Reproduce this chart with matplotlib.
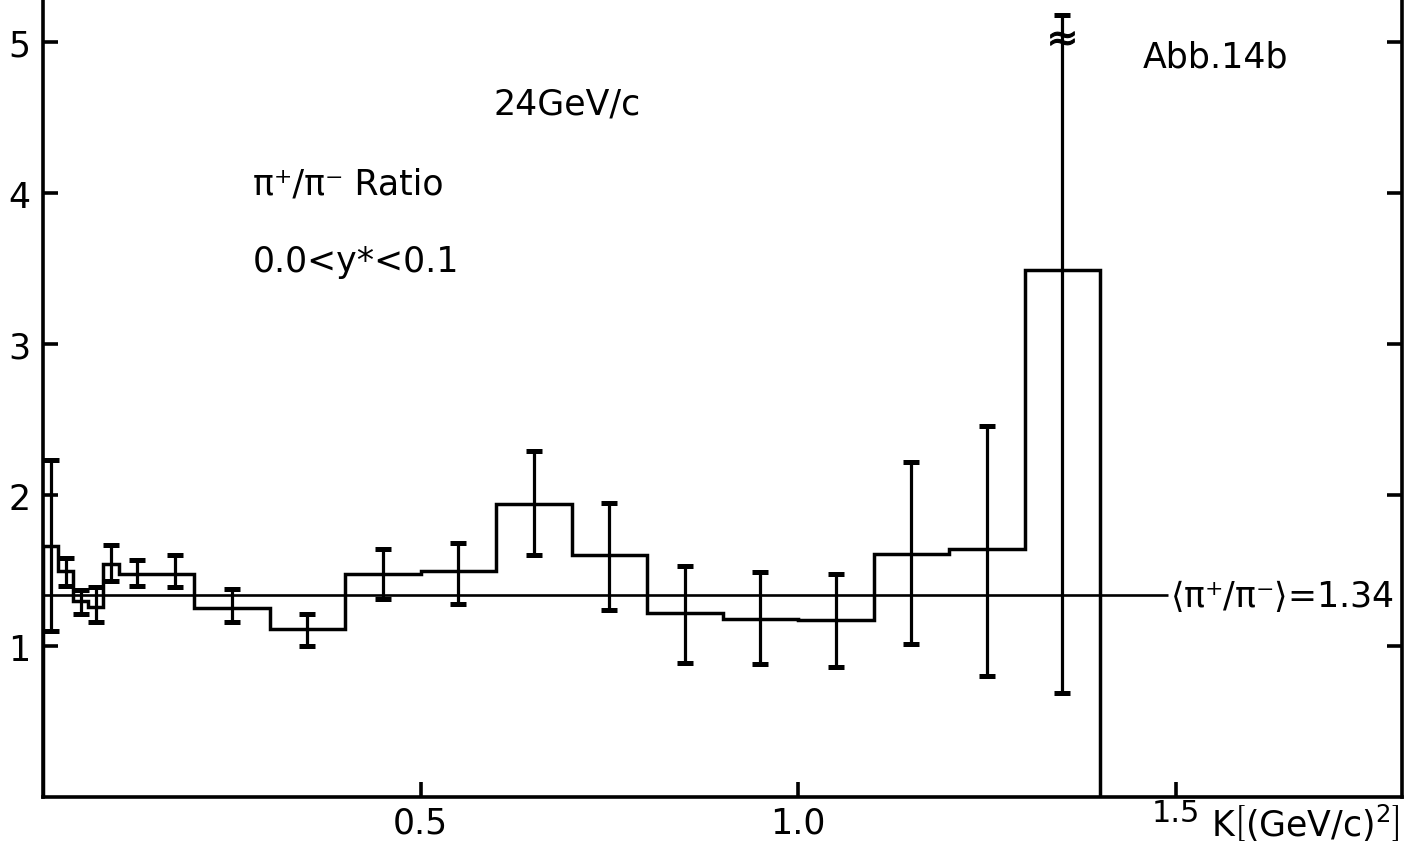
import numpy as np
import matplotlib
matplotlib.use("Agg")
import matplotlib.pyplot as plt
from matplotlib.transforms import blended_transform_factory

plt.rcParams['font.family'] = ['DejaVu Sans']
plt.rcParams['mathtext.fontset'] = 'dejavusans'

# pi+/pi- ratio per K bin, 24 GeV/c, 0.0 < y* < 0.1
bin_edges = [0.0, 0.02, 0.04, 0.06, 0.08, 0.10, 0.15, 0.20, 0.3, 0.4, 0.5,
             0.6, 0.7, 0.8, 0.9, 1.0, 1.1, 1.2, 1.3, 1.4]
ratio = [1.66, 1.50, 1.30, 1.26, 1.54, 1.48, 1.48, 1.25, 1.11, 1.48, 1.50,
         1.94, 1.60, 1.22, 1.18, 1.17, 1.61, 1.64, 3.49]
err_low = [1.10, 1.40, 1.21, 1.16, 1.43, 1.40, 1.39, 1.16, 1.00, 1.31, 1.28,
           1.60, 1.24, 0.89, 0.88, 0.86, 1.01, 0.80, 0.69]
err_high = [2.23, 1.58, 1.37, 1.39, 1.67, 1.57, 1.60, 1.38, 1.21, 1.64, 1.68,
            2.29, 1.95, 1.53, 1.49, 1.48, 2.22, 2.46, 5.18]
mean_ratio = 1.34
x_ticks = [0.5, 1.0, 1.5]
y_ticks = [1, 2, 3, 4, 5]

W, H = 1415, 854
fig = plt.figure(figsize=(W / 100, H / 100), dpi=100)
ax = fig.add_axes([43 / W, 56 / H, (1402 - 43) / W, 1 - 56 / H])
ax.set_xlim(0, 1.8)
ax.set_ylim(0, 5.285)

lw = 2.5
edges = np.array(bin_edges)
vals = np.array(ratio)
centers = 0.5 * (edges[:-1] + edges[1:])
lo = vals - np.array(err_low)
hi = np.array(err_high) - vals

ax.stairs(vals, edges, baseline=0, fill=False, color='black', linewidth=lw)
ax.errorbar(centers, vals, yerr=[lo, hi], fmt='none', ecolor='black',
            elinewidth=2.3, capsize=6, capthick=3.6)

# break marker on the long error bar of the last bin
ax.plot([centers[-1]], [err_high[-1] - 0.15], marker=r'$\approx$',
        markersize=17, color='black', markeredgewidth=0.8)

# mean ratio line with its label
mean_end = 1.49
ax.hlines(mean_ratio, 0, mean_end, color='black', linewidth=1.9)
fs = 25
ax.text(mean_end + 0.003, mean_ratio,
        r'$\langle$' + 'π⁺/π⁻' + r'$\rangle$' + f'={mean_ratio:.2f}',
        fontsize=fs, va='center', ha='left')

for side in ['left', 'bottom', 'right']:
    ax.spines[side].set_linewidth(2.6)
ax.spines['top'].set_visible(False)

ax.set_yticks(y_ticks)
ax.set_yticklabels([str(v) for v in y_ticks], fontsize=fs)
ax.set_xticks(x_ticks)
ax.set_xticklabels([f'{v:.1f}' for v in x_ticks[:-1]] + [''], fontsize=fs)
ax.tick_params(axis='both', direction='in', length=11, width=2.6)
ax.tick_params(axis='y', right=True, labelright=False, pad=9)
ax.tick_params(axis='x', pad=6)

trans = blended_transform_factory(ax.transData, fig.transFigure)
ax.text(x_ticks[-1], 1 - 814 / H, f'{x_ticks[-1]:.1f}', transform=trans,
        fontsize=22, ha='center', va='center')
fig.text(1400 / W, 1 - 823 / H, r'K$\left[(\mathrm{GeV/c})^2\right]$',
         fontsize=25, ha='right', va='center')


def label(px, py, s, size=fs):
    fig.text(px / W, 1 - py / H, s, fontsize=size, ha='left', va='center')


label(493, 105, '24GeV/c')
label(253, 185, 'π⁺/π⁻ Ratio')
label(253, 262, '0.0<y*<0.1')
label(1143, 57, 'Abb.14b')

fig.savefig('out.png', dpi=100)
